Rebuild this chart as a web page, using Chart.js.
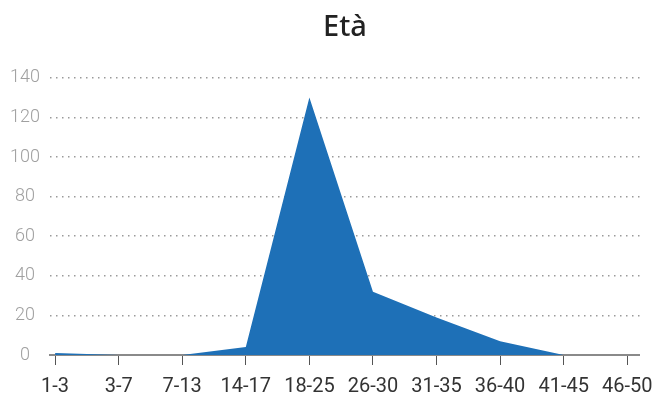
<!DOCTYPE html>
<html>
<head>
<meta charset="utf-8">
<script src="https://cdn.jsdelivr.net/npm/chart.js@4/dist/chart.umd.min.js"></script>
<style>
  html, body { margin: 0; padding: 0; background: #ffffff; }
  #wrap { width: 663px; height: 396px; position: relative; }
</style>
</head>
<body>
<div id="wrap"><canvas id="chart"></canvas></div>
<script>
// Age groups and number of people in each
const ageGroups = ['1-3', '3-7', '7-13', '14-17', '18-25', '26-30', '31-35', '36-40', '41-45', '46-50'];
const counts = [1, 0, 0, 4, 130, 32, 19, 7, 0, 0];
const yTicks = [0, 20, 40, 60, 80, 100, 120, 140];

const fillBlue = '#1e70b7';
const labelFont = "'Roboto', sans-serif";

new Chart(document.getElementById('chart'), {
  type: 'line',
  data: {
    datasets: [{
      label: 'Età',
      data: counts.map((v, i) => ({ x: i, y: v })),
      backgroundColor: fillBlue,
      borderColor: fillBlue,
      borderWidth: 0,
      fill: 'origin',
      pointRadius: 0,
      tension: 0
    }]
  },
  options: {
    responsive: true,
    maintainAspectRatio: false,
    animation: false,
    layout: { padding: { left: 0, right: 23, top: 0, bottom: 0 } },
    plugins: {
      legend: { display: false },
      tooltip: { enabled: false },
      title: {
        display: true,
        text: 'Età',
        fullSize: false,
        color: '#222222',
        font: { family: "'Noto Sans', sans-serif", size: 29, weight: '500' },
        padding: { top: 10, bottom: 33 }
      }
    },
    scales: {
      x: {
        type: 'linear',
        min: -0.08,
        max: 9.2,
        afterBuildTicks: (scale) => { scale.ticks = ageGroups.map((_, i) => ({ value: i })); },
        afterFit: (scale) => { scale.height = 41; },
        ticks: {
          autoSkip: false,
          maxRotation: 0,
          color: '#333333',
          font: { family: labelFont, size: 20 },
          padding: 10,
          callback: (v) => ageGroups[v]
        },
        grid: {
          drawOnChartArea: false,
          drawTicks: true,
          tickLength: 10,
          color: '#555555',
          lineWidth: 1
        },
        border: { display: true, color: '#8a8a8a', width: 2 }
      },
      y: {
        min: 0,
        max: 140,
        afterBuildTicks: (scale) => { scale.ticks = yTicks.map(v => ({ value: v })); },
        afterFit: (scale) => { scale.width = 50; },
        ticks: {
          color: '#a0a0a0',
          crossAlign: 'center',
          padding: 10,
          font: { family: labelFont, size: 18, weight: '300' }
        },
        grid: {
          drawTicks: false,
          color: '#9a9a9a',
          lineWidth: 1.5
        },
        border: { display: false, dash: [1.5, 4.5] }
      }
    }
  }
});
</script>
</body>
</html>
